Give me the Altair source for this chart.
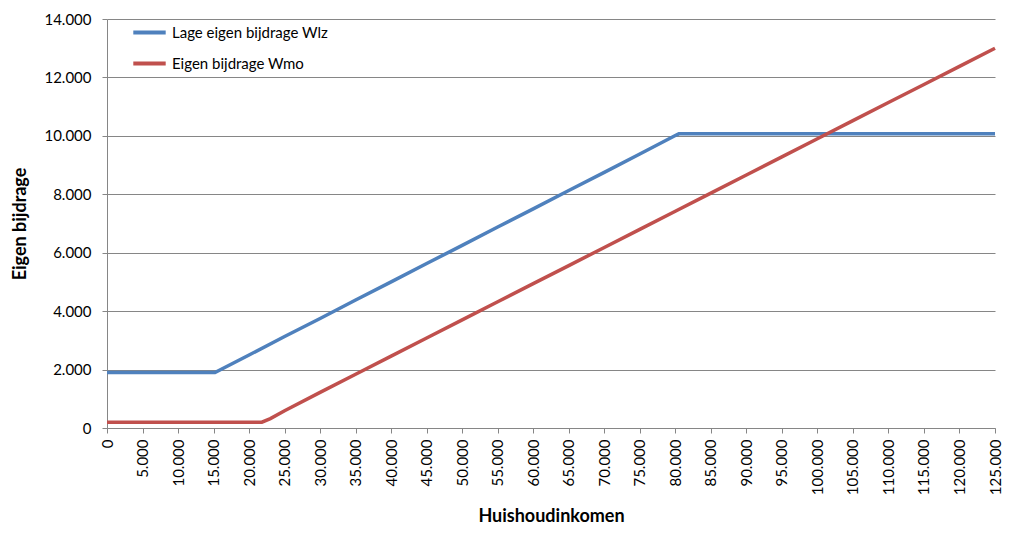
import altair as alt
import pandas as pd

# Huishoudinkomen (x) breakpoints and read-off values
wlz_x = [0, 5000, 10000, 15000, 15200, 20000, 25000, 30000, 35000, 40000, 45000,
         50000, 55000, 60000, 65000, 70000, 75000, 80000, 80500, 85000, 90000,
         95000, 100000, 105000, 110000, 115000, 120000, 125000]
wlz_y = [1900, 1900, 1900, 1900, 1900, 2500, 3130, 3750, 4380, 5000, 5630,
         6250, 6880, 7500, 8130, 8750, 9380, 10010, 10070, 10070, 10070,
         10070, 10070, 10070, 10070, 10070, 10070, 10070]

wmo_x = [0, 5000, 10000, 15000, 20000, 21800, 23000, 25000, 30000, 35000, 40000,
         45000, 50000, 55000, 60000, 65000, 70000, 75000, 80000, 85000, 90000,
         95000, 100000, 105000, 110000, 115000, 120000, 125000]
wmo_y = [200, 200, 200, 200, 200, 200, 320, 590, 1220, 1840, 2460,
         3080, 3700, 4320, 4940, 5560, 6180, 6800, 7420, 8040, 8660,
         9280, 9900, 10520, 11140, 11760, 12380, 13000]

series_names = ["Lage eigen bijdrage Wlz", "Eigen bijdrage Wmo"]
series_colors = ["#4F81BD", "#C0504D"]

x_ticks = list(range(0, 125001, 5000))
y_ticks = list(range(0, 14001, 2000))

rows = []
for i, (xv, yv) in enumerate(zip(wlz_x, wlz_y)):
    rows.append({"inkomen": xv, "bijdrage": yv, "reeks": series_names[0], "o": i})
for i, (xv, yv) in enumerate(zip(wmo_x, wmo_y)):
    rows.append({"inkomen": xv, "bijdrage": yv, "reeks": series_names[1], "o": i})
df = pd.DataFrame(rows)

FONT = "Lato"
fmt = "replace(format(datum.value, ',d'), ',', '.')"

chart = alt.Chart(df).mark_line(strokeWidth=3.5).encode(
    x=alt.X("inkomen:Q",
            scale=alt.Scale(domain=[0, 125000], nice=False, zero=True),
            axis=alt.Axis(title="Huishoudinkomen", values=x_ticks, labelExpr=fmt,
                          labelAngle=-90, labelAlign="right", labelBaseline="middle",
                          grid=False, domainColor="#868686", tickColor="#868686",
                          tickSize=5, labelPadding=6, labelFontSize=15,
                          labelColor="#000000", labelFont=FONT,
                          titleFont=FONT, titleFontSize=18, titleFontWeight="bold",
                          titleColor="#000000", titlePadding=13, labelOverlap=False)),
    y=alt.Y("bijdrage:Q",
            scale=alt.Scale(domain=[0, 14000], nice=False),
            axis=alt.Axis(title="Eigen bijdrage", values=y_ticks, labelExpr=fmt,
                          grid=True, gridColor="#868686", gridWidth=1,
                          domainColor="#868686", tickColor="#868686", tickSize=5,
                          labelPadding=11, labelFontSize=15, labelColor="#000000",
                          labelFont=FONT, titleFont=FONT, titleFontSize=18,
                          titleFontWeight="bold", titleColor="#000000",
                          titlePadding=14)),
    color=alt.Color("reeks:N",
                    scale=alt.Scale(domain=series_names, range=series_colors),
                    legend=alt.Legend(title=None, orient="none", legendX=24, legendY=-5,
                                      symbolType="stroke", symbolSize=1050,
                                      symbolStrokeWidth=4, labelFontSize=15,
                                      labelFont=FONT, labelColor="#000000",
                                      labelOffset=4, rowPadding=4)),
    order="o:Q",
).properties(
    width=888, height=409,
    autosize=alt.AutoSizeParams(type="none"),
    padding={"left": 99, "top": 11, "right": 7, "bottom": 97},
).configure_view(stroke=None)

chart.save("out.html", embed_options={"renderer": "svg", "actions": False})
